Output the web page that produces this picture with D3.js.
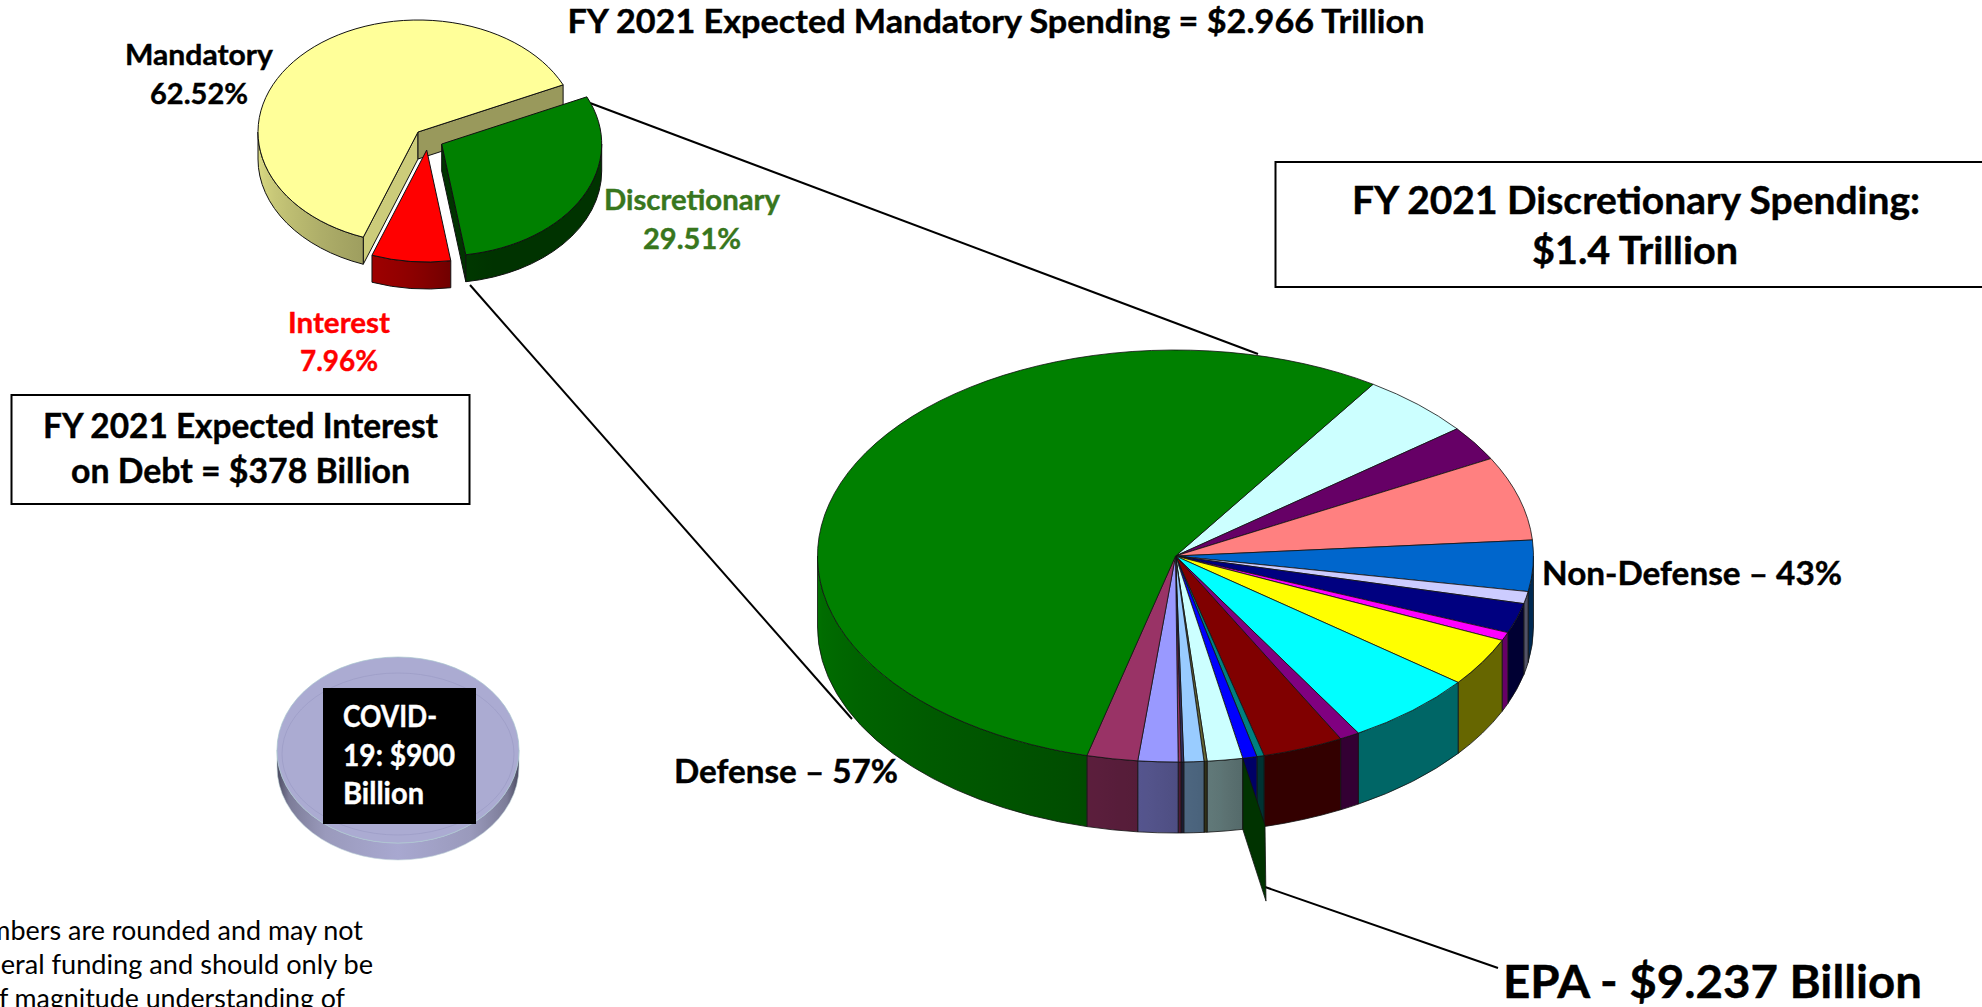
<!DOCTYPE html>
<html>
<head>
<meta charset="utf-8">
<script src="https://cdn.jsdelivr.net/npm/d3@7"></script>
<style>
  html, body { margin: 0; padding: 0; background: #fff; overflow: hidden; }
  svg { display: block; }
  text { font-family: Lato, "Open Sans", sans-serif; }
  path { vector-effect: non-scaling-stroke; }
</style>
</head>
<body>
<div id="content"></div>
<script>
// Values
var budgetNames = ['Mandatory', 'Discretionary', 'Interest'];
var budgetShares = [62.52, 29.51, 7.96];
var budgetColors = ['#FFFF99', '#008000', '#FF0000'];

// Discretionary pie, clockwise starting after the Defense slice (Defense is last).
var discShares = [5.1, 2.75, 6.6, 4.0, 0.95, 2.35, 0.65, 3.8, 5.95, 0.9, 3.65, 0.33,
                  0.64, 1.6, 0.14, 0.9, 0.12, 0.13, 1.8, 2.3, 55.3];
var discColors = ['#CCFFFF', '#660066', '#FF8080', '#0066CC', '#CCCCFF', '#000080', '#FF00FF',
                  '#FFFF00', '#00FFFF', '#800080', '#800000', '#008080',
                  '#0000FF', '#CCFFFF', '#666633', '#99CCFF', '#333366', '#993366', '#9999FF', '#993366', '#008000'];
var epaIndex = 12;

var covidShares = [900];
var covidColors = ['#ABABD2'];

var title = 'FY 2021 Expected Mandatory Spending = $2.966 Trillion';
var discBoxLines = ['FY 2021 Discretionary Spending:', '$1.4 Trillion'];
var interestBoxLines = ['FY 2021 Expected Interest', 'on Debt = $378 Billion'];
var covidLines = ['COVID-', '19: $900', 'Billion'];
var footnoteLines = ['Numbers are rounded and may not', 'federal funding and should only be', 'of magnitude understanding of'];

var width = 1982, height = 1007;
var svg = d3.select('#content').append('svg')
    .attr('width', width)
    .attr('height', height);
var defs = svg.append('defs');

var deg = Math.PI / 180;
var gradientCount = 0;

// how much the light falls on the rim, by direction (degrees clockwise from east)
var rimShade = d3.scaleLinear()
    .domain([0, 78, 83, 88, 95, 105, 180])
    .range([0.4, 0.4, 0.46, 0.5, 0.55, 0.6, 0.88]);
var faceShade = d3.scaleLinear()
    .domain([20, 65, 171])
    .range([0.8, 0.6, 0.4]);

function darker(color, k) {
    var c = d3.rgb(color);
    return d3.rgb(c.r * k, c.g * k, c.b * k).formatHex();
}

function rimPoint(p, a, r, dy) {
    var f = r === undefined ? 1 : r;
    return [p.cx + p.rx * f * Math.sin(a), p.cy - p.ry * f * Math.cos(a) + (dy || 0)];
}

function rimGradient(p, color, a0, a1) {
    var id = 'rim' + (gradientCount++);
    var xa = rimPoint(p, a0)[0], xb = rimPoint(p, a1)[0];
    var grad = defs.append('linearGradient').attr('id', id)
        .attr('gradientUnits', 'userSpaceOnUse')
        .attr('x1', xa).attr('x2', xb).attr('y1', 0).attr('y2', 0);
    d3.range(0, 9).forEach(function(i) {
        var a = a0 + (a1 - a0) * i / 8;
        var t = ((a / deg - 90) % 360 + 360) % 360;
        grad.append('stop')
            .attr('offset', xb === xa ? 0 : (rimPoint(p, a)[0] - xa) / (xb - xa))
            .attr('stop-color', darker(color, rimShade(t)));
    });
    return 'url(#' + id + ')';
}

// the parts of a slice's rim that face the viewer
function visibleRanges(a0, a1) {
    var out = [];
    [0, 2 * Math.PI].forEach(function(turn) {
        var lo = Math.max(a0, 90 * deg + turn), hi = Math.min(a1, 270 * deg + turn);
        if (hi > lo) out.push([lo, hi]);
    });
    return out;
}

function drawWall(g, p, color, a0, a1) {
    var s0 = rimPoint(p, a0), s1 = rimPoint(p, a1);
    g.append('path')
        .attr('d', 'M' + s0 + 'A' + p.rx + ',' + p.ry + ' 0 0 1 ' + s1 +
            'L' + [s1[0], s1[1] + p.depth] +
            'A' + p.rx + ',' + p.ry + ' 0 0 0 ' + [s0[0], s0[1] + p.depth] + 'Z')
        .attr('fill', rimGradient(p, color, a0, a1))
        .attr('stroke', '#111')
        .attr('stroke-width', p.stroke);
}

function drawFace(g, p, color, a, normal) {
    var n = ((normal / deg - 90) % 360 + 360) % 360;
    if (n <= 0 || n >= 180) return;
    var q = rimPoint(p, a);
    g.append('path')
        .attr('d', d3.line()([[p.cx, p.cy], q, [q[0], q[1] + p.depth], [p.cx, p.cy + p.depth]]) + 'Z')
        .attr('fill', darker(color, faceShade(n)))
        .attr('stroke', '#111')
        .attr('stroke-width', p.stroke);
}

function drawSlice(p, d, color, faces) {
    var g = svg.append('g');
    if (faces) {
        drawFace(g, p, color, d.startAngle, d.startAngle - Math.PI / 2);
        drawFace(g, p, color, d.endAngle, d.endAngle + Math.PI / 2);
    }
    visibleRanges(d.startAngle, d.endAngle).forEach(function(r) {
        drawWall(g, p, color, r[0], r[1]);
    });
    g.append('g')
        .attr('transform', 'translate(' + p.cx + ',' + p.cy + ') scale(1,' + (p.ry / p.rx) + ')')
        .append('path')
        .attr('d', d3.arc().innerRadius(0).outerRadius(p.rx)(d))
        .attr('fill', color)
        .attr('stroke', '#111')
        .attr('stroke-width', p.stroke);
}

// text fitted to the width it has in the picture
function label(str, x0, x1, y, size, fill, weight) {
    var w = weight || 700;
    svg.append('text')
        .attr('x', x0)
        .attr('y', y)
        .attr('textLength', x1 - x0)
        .attr('lengthAdjust', 'spacingAndGlyphs')
        .attr('font-size', size)
        .attr('font-weight', w)
        .attr('fill', fill || '#000')
        .attr('stroke', w === 700 ? (fill || '#000') : 'none')
        .attr('stroke-width', 0.4)
        .text(str);
}

function box(x, y, w, h) {
    svg.append('rect').attr('x', x).attr('y', y).attr('width', w).attr('height', h)
        .attr('fill', '#fff').attr('stroke', '#000').attr('stroke-width', 2);
}

function leader(x1, y1, x2, y2) {
    svg.append('line').attr('x1', x1).attr('y1', y1).attr('x2', x2).attr('y2', y2)
        .attr('stroke', '#000').attr('stroke-width', 2);
}

// Leader lines go under the pies
leader(590, 103, 1258, 354);
leader(470, 285, 852, 719);
leader(1265, 887, 1498, 968);

// Top left pie
var budgetPie = d3.pie().sort(null)
    .startAngle(200 * deg)
    .endAngle(560 * deg)(budgetShares);
var budgetPlaces = [
    {cx: 418, cy: 132, rx: 160, ry: 112, depth: 27, stroke: 1},
    {cx: 441.7, cy: 144, rx: 160, ry: 112, depth: 27, stroke: 1},
    {cx: 426.7, cy: 150, rx: 160, ry: 112, depth: 27, stroke: 1}
];
[0, 2, 1].forEach(function(i) {
    drawSlice(budgetPlaces[i], budgetPie[i], budgetColors[i], true);
});

// Large pie
var big = {cx: 1175.5, cy: 556, rx: 358, ry: 206, depth: 71, stroke: 0.8};
var discPie = d3.pie().sort(null)
    .startAngle(33.5 * deg)
    .endAngle(393.5 * deg)(discShares);
discPie.forEach(function(d, i) {
    drawSlice(big, d, discColors[i], false);
});

// The EPA slice's cut face, pulled out of the rim
var epaAngle = discPie[epaIndex].endAngle;
var epaPull = 1.33;
var e0 = rimPoint(big, epaAngle), e1 = rimPoint(big, epaAngle, epaPull);
svg.append('path')
    .attr('d', d3.line()([e0, e1, [e1[0] + 1, e1[1] + big.depth + 5], [e0[0], e0[1] + big.depth]]) + 'Z')
    .attr('fill', '#003300')
    .attr('stroke', '#111')
    .attr('stroke-width', 0.8);

// COVID disc
var covid = {cx: 398, cy: 750, rx: 121, ry: 93, depth: 17};
var covidPie = d3.pie().startAngle(0).endAngle(2 * Math.PI)(covidShares);
var covidGrad = defs.append('linearGradient').attr('id', 'covidRim');
[['0', '#4a4a60'], ['0.05', '#7c7c98'], ['0.2', '#9a9abc'], ['0.5', '#a8a8d0'],
 ['0.8', '#9a9abc'], ['0.95', '#7c7c98'], ['1', '#4a4a60']].forEach(function(s) {
    covidGrad.append('stop').attr('offset', s[0]).attr('stop-color', s[1]);
});
svg.append('path')
    .attr('d', 'M' + (covid.cx - covid.rx) + ',' + covid.cy +
        'A' + covid.rx + ',' + covid.ry + ' 0 0 0 ' + (covid.cx + covid.rx) + ',' + covid.cy +
        'V' + (covid.cy + covid.depth) +
        'A' + covid.rx + ',' + covid.ry + ' 0 0 1 ' + (covid.cx - covid.rx) + ',' + (covid.cy + covid.depth) + 'Z')
    .attr('fill', 'url(#covidRim)')
    .attr('stroke', '#c4d6dc')
    .attr('stroke-width', 0.6);
svg.append('g')
    .attr('transform', 'translate(' + covid.cx + ',' + covid.cy + ') scale(1,' + (covid.ry / covid.rx) + ')')
    .append('path')
    .attr('d', d3.arc().innerRadius(0).outerRadius(covid.rx)(covidPie[0]))
    .attr('fill', covidColors[0])
    .attr('stroke', '#a9c6cf')
    .attr('stroke-width', 0.7);
// faint bevel inside the top face
svg.append('ellipse')
    .attr('cx', covid.cx).attr('cy', covid.cy + 4)
    .attr('rx', covid.rx - 5).attr('ry', covid.ry - 12)
    .attr('fill', 'none')
    .attr('stroke', '#9d9dc6')
    .attr('stroke-width', 0.8);

svg.append('rect').attr('x', 323).attr('y', 688).attr('width', 153).attr('height', 136).attr('fill', '#000');
label(covidLines[0], 343, 437, 727, 30, '#fff');
label(covidLines[1], 343, 455, 766, 30, '#fff');
label(covidLines[2], 343, 424, 804, 30, '#fff');

// Text
label(title, 567.5, 1424.5, 33, 33);
label(budgetNames[0], 125, 273, 65, 29);
label(budgetShares[0].toFixed(2) + '%', 150, 248, 104, 29);
label(budgetNames[1], 604, 780, 210, 29, '#38761D');
label(budgetShares[1].toFixed(2) + '%', 643, 741, 249, 29, '#38761D');
label(budgetNames[2], 288, 390, 333, 29, '#FF0000');
label(budgetShares[2].toFixed(2) + '%', 300, 378, 371, 29, '#FF0000');

box(1275.5, 162, 720, 125);
label(discBoxLines[0], 1352, 1920, 214, 38);
label(discBoxLines[1], 1532, 1738, 264, 38);

box(11.5, 395, 458, 109);
label(interestBoxLines[0], 43, 438, 438, 34);
label(interestBoxLines[1], 71, 410, 483, 34);

label('Non-Defense \u2013 43%', 1542, 1842, 585, 33);
label('Defense \u2013 57%', 674, 898, 783, 33);
label('EPA - $9.237 Billion', 1503, 1922, 998, 45);

// these run off the left and bottom edges in the reference too
label(footnoteLines[0], -47, 363, 940, 27, '#000', 400);
label(footnoteLines[1], -38, 373, 974, 27, '#000', 400);
label(footnoteLines[2], -16, 345, 1008, 27, '#000', 400);
</script>
</body>
</html>
